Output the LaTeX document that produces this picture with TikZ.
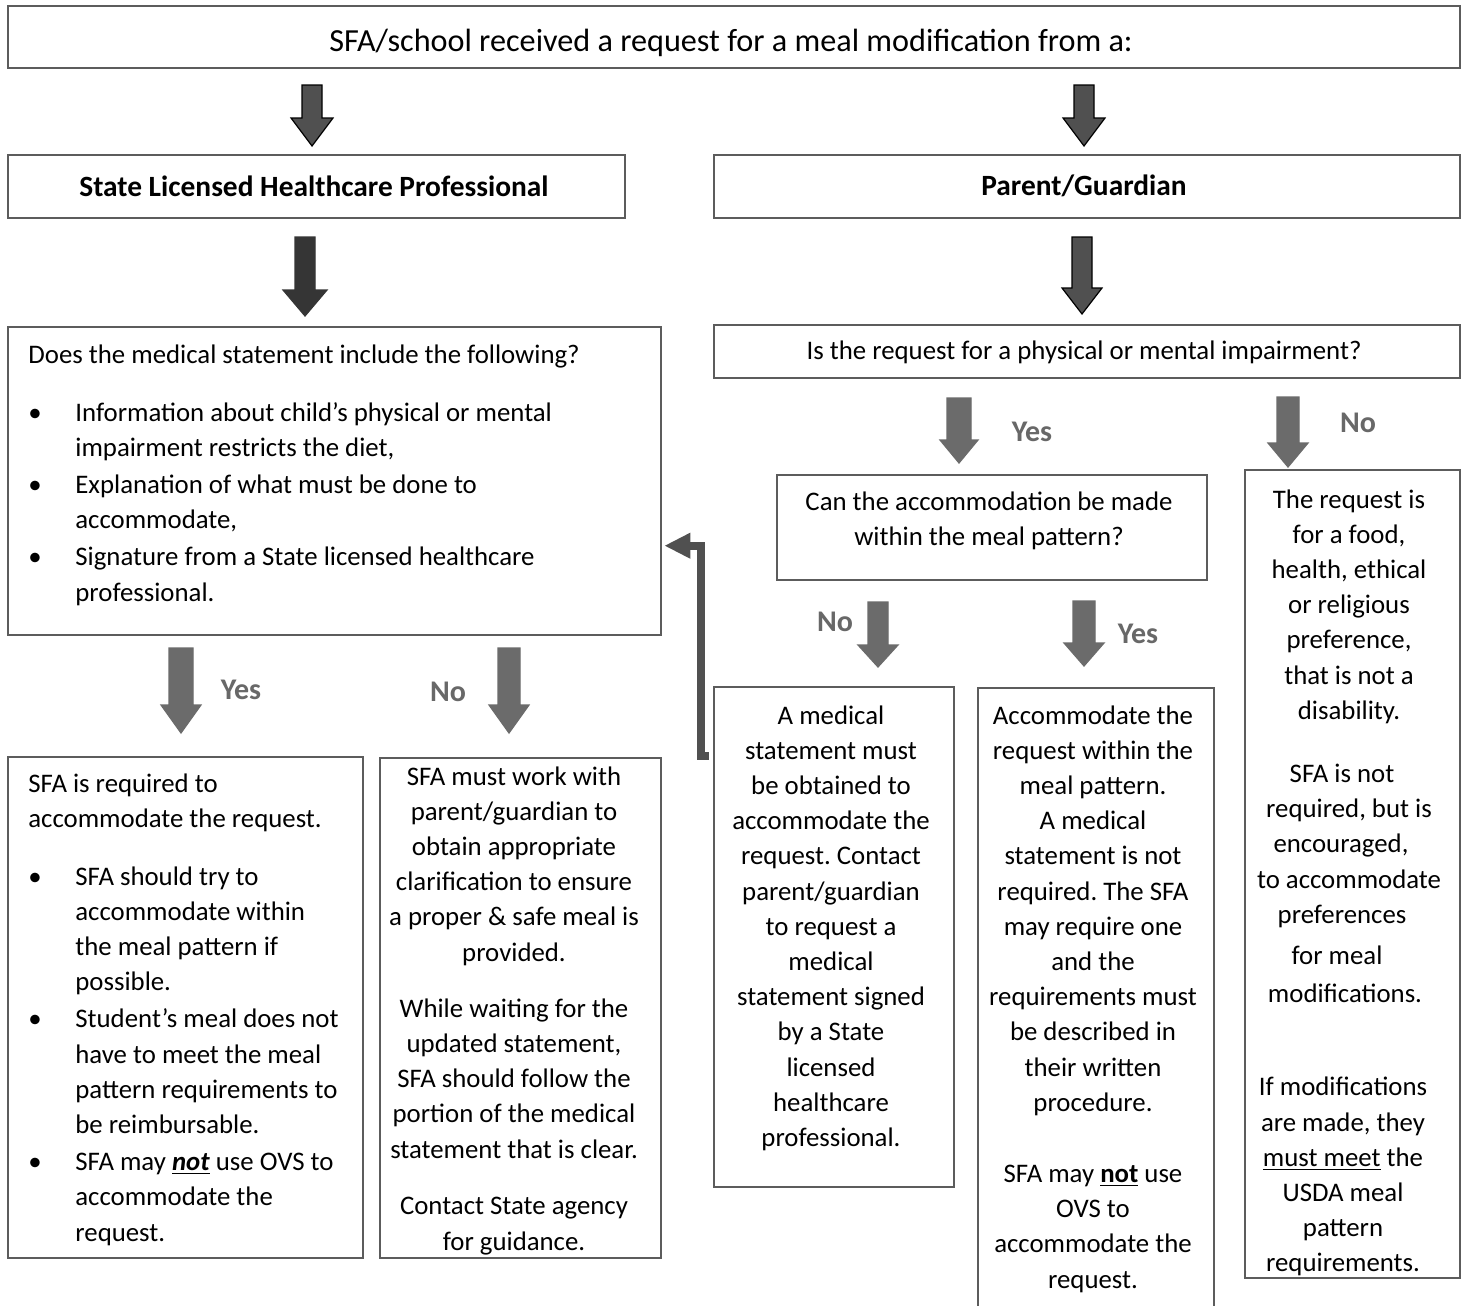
\documentclass[tikz,border=0pt]{standalone}
\usepackage{fontspec}
\setmainfont{Carlito}
\usetikzlibrary{fit,calc,arrows.meta}
\definecolor{bordergray}{HTML}{5C5C5C}
\definecolor{arrowgray}{HTML}{6B6B6B}
\definecolor{arrowdark}{HTML}{353535}
\definecolor{arrowmid}{HTML}{505050}
\definecolor{labelgray}{HTML}{686868}
\newcommand{\bodyfont}{\fontsize{13.4}{17.6}\selectfont\frenchspacing}
\newcommand{\ctab}[1]{\begin{tabular}{@{}c@{}}#1\end{tabular}}
\newcommand{\ltab}[1]{\begin{tabular}{@{}l@{}}#1\end{tabular}}
\newcommand{\btab}[1]{\begin{tabular}{@{}p{23.5pt}@{}l@{}}#1\end{tabular}}
% x, y top, y head start, y tip, shaft half width, head half width, fill, outline
\newcommand{\blockarrow}[8]{%
  \filldraw[fill=#7, draw=#8, line width=0.6pt, line join=miter]
    (#1-#5,#2) -- (#1+#5,#2) -- (#1+#5,#3) -- (#1+#6,#3) -- (#1,#4)
    -- (#1-#6,#3) -- (#1-#5,#3) -- cycle;}
\begin{document}
\begin{tikzpicture}[x=0.5pt, y=-0.5pt,
  box/.style={draw=bordergray, line width=1.3pt, inner sep=0pt},
  txt/.style={inner sep=0pt, font=\bodyfont},
  head/.style={inner sep=0pt, font=\fontsize{14.7}{17}\selectfont\bfseries},
  lbl/.style={inner sep=0pt, text=labelgray, font=\fontsize{15}{18}\selectfont\bfseries},
  fbline/.style={draw=arrowmid, line width=4pt, -{Triangle[length=13pt, width=12pt]}}]
\useasboundingbox (0,0) rectangle (1467,1306);
\clip (0,0) rectangle (1467,1306);
\fill[white] (0,0) rectangle (1467,1306);

% ---------- boxes ----------
\node[box, fit={(8,6) (1460,68)}] (top) {};
\node[box, fit={(8,155) (625,218)}] (slhp) {};
\node[box, fit={(714,155) (1460,218)}] (pg) {};
\node[box, fit={(8,327) (661,635)}] (med) {};
\node[box, fit={(714,325) (1460,378)}] (phys) {};
\node[box, fit={(777,475) (1207,580)}] (can) {};
\node[box, fit={(1245,470) (1460,1278)}] (pref) {};
\node[box, fit={(8,757) (363,1258)}] (req) {};
\node[box, fit={(380,758) (661,1258)}] (work) {};
\node[box, fit={(714,687) (954,1187)}] (obt) {};
\node[box, fit={(978,688) (1214,1330)}] (acc) {};

% ---------- texts ----------
\node[inner sep=0pt, font=\fontsize{16.1}{19}\selectfont] (topt) at (731,43)
  {SFA/school received a request for a meal modification from a:};
\node[head] (slhpt) at (314,186) {State Licensed Healthcare Professional};
\node[head] (pgt) at (1084,186) {Parent/Guardian};
\node[txt] (physt) at (1084,352) {Is the request for a physical or mental impairment?};
\node[txt, anchor=north west] (medt) at (28,338)
  {\ltab{Does the medical statement include the following?}};
\node[txt, anchor=north west] (medb) at (28,396)
  {\btab{\textbullet & Information about child’s physical or mental\\
         & impairment restricts the diet,\\[1pt]
         \textbullet & Explanation of what must be done to\\
         & accommodate,\\[1pt]
         \textbullet & Signature from a State licensed healthcare\\
         & professional.}};
\node[txt, anchor=north] (cant) at (989,485)
  {\ctab{Can the accommodation be made\\within the meal pattern?}};
\node[txt, anchor=north] (preft) at (1349,483)
  {\ctab{The request is\\for a food,\\health, ethical\\or religious\\preference,\\that is not a\\disability.\\[14pt]
   SFA is not\hspace*{7pt}\\required, but is\\encouraged,\hspace*{8pt}\\to accommodate\\preferences\hspace*{7pt}\\[3pt]for meal\hspace*{12pt}\\[1.5pt]modifications.\hspace*{4pt}\\[29pt]
   If modifications\hspace*{6pt}\\are made, they\hspace*{6pt}\\\underline{must meet} the\hspace*{6pt}\\USDA meal\hspace*{6pt}\\pattern\hspace*{6pt}\\requirements.\hspace*{6pt}}};
\node[txt, anchor=north west] (reqt) at (28,767)
  {\ltab{SFA is required to\\accommodate the request.}};
\node[txt, anchor=north west] (reqb) at (28,860)
  {\btab{\textbullet & SFA should try to\\
         & accommodate within\\
         & the meal pattern if\\
         & possible.\\[1pt]
         \textbullet & Student’s meal does not\\
         & have to meet the meal\\
         & pattern requirements to\\
         & be reimbursable.\\[1pt]
         \textbullet & SFA may \underline{\textbf{\textit{not}}} use OVS to\\
         & accommodate the\\
         & request.}};
\node[txt, anchor=north] (workt) at (514,760)
  {\ctab{SFA must work with\\parent/guardian to\\obtain appropriate\\clarification to ensure\\a proper \& safe meal is\\provided.\\[10.5pt]
   While waiting for the\\updated statement,\\SFA should follow the\\portion of the medical\\statement that is clear.\\[10.8pt]
   Contact State agency\\for guidance.}};
\node[txt, anchor=north] (obtt) at (831,699)
  {\ctab{A medical\\statement must\\be obtained to\\accommodate the\\request. Contact\\parent/guardian\\to request a\\medical\\statement signed\\by a State\\licensed\\healthcare\\professional.}};
\node[txt, anchor=north] (acct) at (1093,699)
  {\ctab{Accommodate the\\request within the\\meal pattern.\\A medical\\statement is not\\required. The SFA\\may require one\\and the\\requirements must\\be described in\\their written\\procedure.\\[18pt]
   SFA may \underline{\textbf{not}} use\\OVS to\\accommodate the\\request.}};

% ---------- block arrows ----------
\blockarrow{312}{85}{118}{146}{10}{21}{arrowmid}{black}
\blockarrow{1084}{85}{118}{146}{10}{21}{arrowmid}{black}
\blockarrow{305}{237}{290}{316}{10}{22}{arrowdark}{arrowdark}
\blockarrow{1082}{237}{288}{314}{10}{20}{arrowmid}{black}
\blockarrow{959}{398}{440}{463}{12}{19}{arrowgray}{arrowgray}
\blockarrow{1288}{397}{443}{467}{11}{20}{arrowgray}{arrowgray}
\blockarrow{181}{648}{705}{733}{12}{20}{arrowgray}{arrowgray}
\blockarrow{509}{648}{705}{733}{11}{20}{arrowgray}{arrowgray}
\blockarrow{878}{602}{645}{667}{10}{20}{arrowgray}{arrowgray}
\blockarrow{1084}{601}{643}{666}{11}{20}{arrowgray}{arrowgray}

% ---------- branch labels ----------
\node[lbl] (y1) at (1032,432) {Yes};
\node[lbl] (n1) at (1358,423) {No};
\node[lbl] (y2) at (241,690) {Yes};
\node[lbl] (n2) at (448,692) {No};
\node[lbl] (n3) at (835,622) {No};
\node[lbl] (y3) at (1138,634) {Yes};

% ---------- feedback connector ----------
\coordinate (fbs) at ($(obt.north west)+(-4,70)$);
\coordinate (fbt) at ($(med.north east)+(2,220)$);
\draw[fbline] (fbs) -| ($(fbt)+(37,0)$) -- (fbt);
\end{tikzpicture}
\end{document}
